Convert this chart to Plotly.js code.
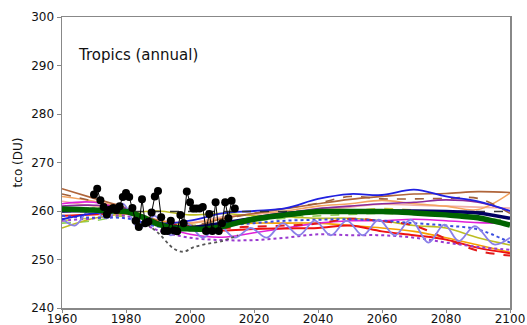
<!DOCTYPE html>
<html>
<head>
<meta charset="utf-8">
<script src="https://cdn.plot.ly/plotly-3.0.1.min.js"></script>
<style>html,body{margin:0;padding:0;background:#fff;}#chart{width:527px;height:325px;}</style>
</head>
<body>
<div id="chart"></div>
<script>
// ---- data ----
const years10 = [1960,1970,1980,1990,2000,2010,2020,2030,2040,2050,2060,2070,2080,2090,2100];
const years5 = [1960,1965,1970,1975,1980,1985,1990,1995,2000,2005,2010,2015,2020,2025,2030,2035,2040,2045,2050,2055,2060,2065,2070,2075,2080,2085,2090,2095,2100];

const brownSolid   = [264.6,262.6,260.6,257.2,256.6,258.4,259.5,260.5,261.5,262.4,263.0,263.5,263.6,264.0,263.8];
const brownDashed  = [263.5,262.0,260.4,258.0,257.0,258.3,259.5,260.6,261.6,263.0,262.5,262.5,262.6,262.6,259.5];
const peachSolid   = [263.0,262.0,260.5,258.0,257.5,258.5,259.5,260.0,261.0,261.5,262.2,261.5,261.0,260.3,263.7];
const pinkSolid    = [262.0,261.0,260.2,258.2,257.6,258.8,259.3,259.8,260.2,260.8,261.4,261.2,261.0,260.8,260.6];
const purpleSolid  = [261.0,261.2,260.5,257.5,256.0,257.0,258.5,259.5,260.5,261.0,261.5,261.8,262.3,261.8,260.0];
const magentaSolid = [261.5,261.8,260.0,257.0,255.2,254.6,255.5,256.5,257.5,258.0,258.0,258.3,258.0,257.6,257.5];
const blueSolid    = [258.3,259.5,259.8,257.5,258.0,259.5,260.0,260.6,262.5,263.5,263.3,264.4,263.0,262.0,260.0];
const blueDotted   = [259.0,258.6,258.5,256.8,256.5,257.0,257.5,258.0,258.2,258.3,258.0,257.5,257.0,256.2,253.5];
const purpleDotted = [258.0,258.5,259.0,256.0,254.5,254.0,254.0,254.5,255.2,255.0,255.0,254.5,253.5,252.6,252.0];
const redSolid     = [259.0,259.3,259.5,257.5,256.5,256.0,256.3,256.4,256.5,257.0,255.8,255.0,254.1,252.4,251.3];
const redDashed    = [260.0,260.3,260.0,257.8,256.8,256.5,256.8,257.0,257.4,258.4,257.9,257.0,254.3,251.8,250.8];
const orangeSolid  = [260.0,260.2,260.0,258.0,257.0,257.2,257.5,257.5,257.5,257.0,256.5,255.8,254.5,253.0,251.5];
const oliveSolid   = [256.5,258.5,259.5,260.0,259.2,259.5,259.0,258.8,258.5,258.5,258.0,257.0,256.5,254.5,253.0];
const oliveDashed  = [258.0,258.6,259.0,258.0,257.0,257.8,258.5,259.0,259.5,260.0,260.5,260.2,259.6,258.5,257.0];
const greenDashed  = [257.5,258.0,259.0,258.0,257.0,257.5,258.0,258.5,259.0,259.3,259.5,259.3,259.0,258.6,258.0];
const navyThick    = [260.0,260.1,260.0,257.5,256.6,257.5,258.5,259.5,259.8,259.8,260.0,260.0,259.9,259.6,258.5];

const grayDotYears = [1960,1970,1980,1985,1990,1995,1998,2001,2005,2010,2015];
const grayDotted   = [260.5,260.5,260.0,258.0,255.5,252.2,251.6,252.5,253.2,253.8,255.0];

const wavyYears  = [1960,1964,1969,1974,1979,1984,1989,1994,1999,2004,2009,2014,2019,2024,2029,2034,2039,2044,2049,2054,2059,2064,2069,2074.5,2079.5,2084,2089,2095,2100];
const wavyPurple = [258.5,257.0,260.5,258.5,261.5,256.3,259.0,255.0,257.5,254.5,257.0,254.5,256.5,254.5,257.5,255.0,258.0,255.0,258.0,255.0,258.2,255.0,258.2,253.5,257.2,253.8,256.9,253.1,254.5];

const meanGreen = [260.4,260.3,260.2,260.0,259.9,258.8,257.3,256.5,256.3,256.3,256.8,257.6,258.3,258.8,259.2,259.6,259.9,259.9,259.9,259.9,259.9,259.8,259.6,259.4,259.2,258.9,258.6,257.9,257.1];

const refLevel = 259.9;

const obsYears = [1970,1971,1972,1973,1974,1975,1976,1977,1978,1979,1980,1981,1982,1983,1984,1985,1986,1987,1988,1989,1990,1991,1992,1993,1994,1995,1996,1997,1998,1999,2000,2001,2002,2003,2004,2005,2006,2007,2008,2009,2010,2011,2012,2013,2014];
const obsValues = [263.4,264.6,262.2,260.8,259.3,260.3,260.6,260.2,261.0,262.9,263.7,262.9,260.6,258.0,256.7,262.4,257.5,257.8,259.7,263.0,264.1,258.7,255.9,255.9,258.0,256.0,255.8,259.2,257.5,264.0,261.8,260.5,260.5,260.5,260.8,255.9,259.4,255.9,261.8,255.9,257.5,261.8,258.5,262.1,260.5];

// ---- traces ----
function model(x, y, color, dash, width) {
  return {x: x, y: y, type: 'scatter', mode: 'lines', hoverinfo: 'skip', showlegend: false,
          line: {color: color, dash: dash || 'solid', width: width || 1.6, shape: 'spline', smoothing: 1}};
}
const traces = [
  model(years10, pinkSolid, '#f2b0a8'),
  model(years10, peachSolid, '#f4a460'),
  model(years10, orangeSolid, '#f5a000'),
  model(years10, greenDashed, '#8fd05a', 'dash'),
  model(years10, oliveDashed, '#c8c83c', 'dash'),
  model(years10, oliveSolid, '#bcbd22'),
  model(years10, brownSolid, '#b0653a'),
  model(years10, brownDashed, '#a0603a', 'dash'),
  model(years10, purpleSolid, '#8b2a9b'),
  model(years10, magentaSolid, '#e020d8'),
  model(years10, redSolid, '#ee1111', 'solid', 2),
  model(years10, redDashed, '#e21a1a', 'dash', 2),
  model(years10, purpleDotted, '#9a3ad0', 'dot', 2),
  model(years10, blueDotted, '#3a4ee0', 'dot', 2),
  model(wavyYears, wavyPurple, '#8a80e8', 'solid', 1.8),
  model(years10, blueSolid, '#2020e0', 'solid', 1.8),
  model(grayDotYears, grayDotted, '#555555', 'dot', 1.8),
  {x: [years5[0], years5[years5.length-1]], y: [refLevel, refLevel], type: 'scatter', mode: 'lines',
   hoverinfo: 'skip', showlegend: false, line: {color: '#333333', dash: 'dash', width: 1.3}},
  model(years10, navyThick, '#000060', 'solid', 3.5),
  model(years5, meanGreen, '#006400', 'solid', 5.5),
  {x: obsYears, y: obsValues, type: 'scatter', mode: 'lines+markers', hoverinfo: 'skip', showlegend: false,
   line: {color: '#000000', width: 1}, marker: {color: '#000000', size: 8}}
];

const axisFont = {family: 'DejaVu Sans, sans-serif', size: 12, color: '#111111'};
const layout = {
  width: 527, height: 325,
  margin: {l: 62, r: 17, t: 17, b: 17},
  paper_bgcolor: '#ffffff', plot_bgcolor: '#ffffff',
  showlegend: false,
  font: axisFont,
  xaxis: {range: [1960, 2100], tickmode: 'linear', tick0: 1960, dtick: 20, ticks: 'outside', ticklen: 3,
          tickcolor: '#888888', showline: true, mirror: true, linecolor: '#888888', linewidth: 1.5,
          showgrid: false, zeroline: false, tickfont: axisFont, automargin: false, ticklabelstandoff: -4,
          ticklabeloverflow: 'allow'},
  yaxis: {range: [240, 300], tickmode: 'linear', tick0: 240, dtick: 10, ticks: 'outside', ticklen: 4,
          tickcolor: '#888888', showline: true, mirror: true, linecolor: '#888888', linewidth: 1.5,
          showgrid: false, zeroline: false, tickfont: axisFont, automargin: false,
          title: {text: 'tco (DU)', font: {family: 'DejaVu Sans, sans-serif', size: 12, color: '#111111'}, standoff: 6}},
  annotations: [{x: 1964.5, y: 292.2, xref: 'x', yref: 'y', xanchor: 'left', yanchor: 'middle', showarrow: false,
                 text: 'Tropics (annual)', font: {family: 'DejaVu Sans, sans-serif', size: 15, color: '#111111'}}]
};
Plotly.newPlot('chart', traces, layout, {staticPlot: true, displayModeBar: false});
</script>
</body>
</html>
